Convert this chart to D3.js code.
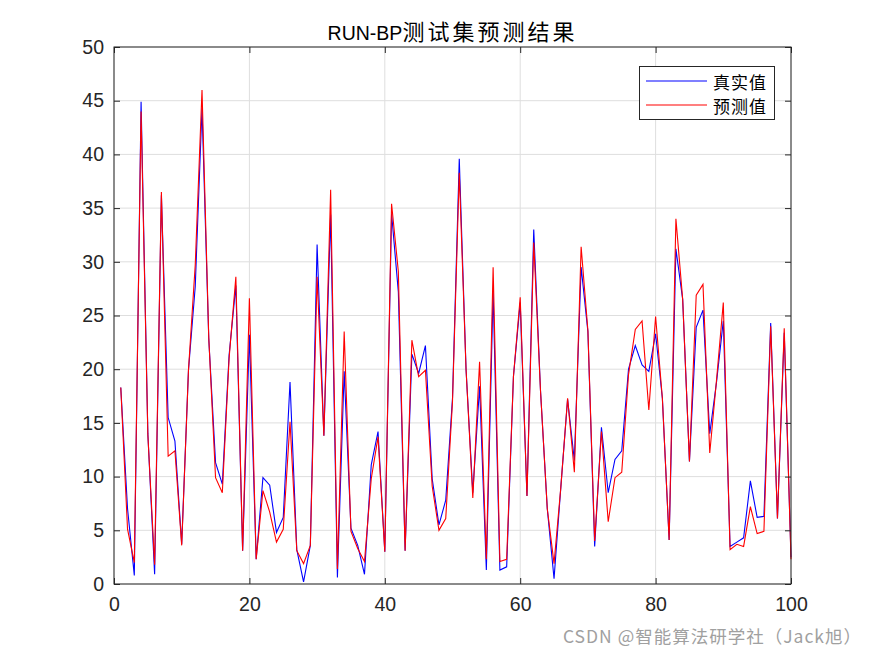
<!DOCTYPE html>
<html>
<head>
<meta charset="utf-8">
<script src="https://cdn.jsdelivr.net/npm/d3@7/dist/d3.min.js"></script>
<style>
  body { margin: 0; background: #fff; }
  svg { display: block; }
</style>
</head>
<body>
<div id="chart"></div>
<script>
// sample index 1..100
const samples = d3.range(1, 101);

// 真实值 (blue)
const trueValues = [
  18.3, 7.0, 0.8, 44.9, 14.0, 0.9, 36.2, 15.5, 13.3, 3.7,
  19.9, 27.7, 44.3, 22.8, 11.3, 9.3, 21.3, 27.8, 3.1, 23.2,
  2.3, 9.9, 9.2, 4.8, 6.2, 18.8, 3.2, 0.2, 3.6, 31.6,
  13.8, 34.4, 0.6, 19.8, 5.2, 3.6, 0.9, 11.1, 14.2, 3.0,
  34.5, 27.2, 3.1, 21.4, 19.6, 22.2, 9.8, 5.5, 7.8, 17.3,
  39.6, 20.0, 8.5, 18.4, 1.3, 27.2, 1.3, 1.6, 19.3, 26.2,
  8.2, 33.0, 18.0, 7.0, 0.5, 9.0, 17.2, 11.5, 29.5, 23.5,
  3.5, 14.6, 8.5, 11.6, 12.4, 20.0, 22.2, 20.4, 19.8, 23.3,
  17.3, 4.1, 31.2, 26.5, 11.4, 23.9, 25.5, 14.0, 18.8, 24.5,
  3.5, 3.9, 4.3, 9.6, 6.2, 6.3, 24.3, 6.1, 23.4, 2.5
];

// 预测值 (red)
const predValues = [
  18.3, 5.1, 2.0, 44.0, 13.9, 1.8, 36.5, 11.9, 12.4, 3.6,
  19.9, 29.7, 46.0, 22.9, 9.9, 8.5, 21.0, 28.6, 3.1, 26.6,
  2.3, 8.7, 6.7, 3.9, 5.1, 15.1, 3.1, 1.9, 3.6, 28.6,
  13.8, 36.7, 1.4, 23.5, 4.9, 3.3, 2.1, 9.8, 13.7, 3.0,
  35.4, 29.1, 3.1, 22.7, 19.3, 19.9, 9.1, 5.0, 6.1, 17.0,
  38.3, 20.0, 8.0, 20.7, 2.3, 29.5, 2.1, 2.3, 19.3, 26.7,
  8.2, 31.8, 18.0, 7.0, 1.9, 9.0, 17.3, 10.4, 31.4, 23.6,
  4.0, 14.2, 5.8, 9.9, 10.4, 19.5, 23.7, 24.5, 16.2, 24.9,
  17.3, 4.1, 34.0, 26.5, 11.4, 26.9, 27.9, 12.2, 19.0, 26.2,
  3.2, 3.7, 3.5, 7.2, 4.7, 4.9, 24.0, 6.1, 23.8, 2.3
];

const xTicks = [0, 20, 40, 60, 80, 100];
const yTicks = [0, 5, 10, 15, 20, 25, 30, 35, 40, 45, 50];
const seriesNames = ['真实值', '预测值'];

const width = 875, height = 656;
const margin = { left: 114, right: 84, top: 47, bottom: 72 };
const axisColor = '#262626';
const latin = "'Liberation Sans', Arial, sans-serif";
const cjk = "'Noto Sans CJK SC', sans-serif";

const svg = d3.select('#chart')
  .append('svg')
  .attr('width', width)
  .attr('height', height);

const xScale = d3.scaleLinear()
  .domain([0, 100])
  .range([margin.left, width - margin.right]);

const yScale = d3.scaleLinear()
  .domain([0, 50])
  .range([height - margin.bottom, margin.top]);

const x0 = xScale.range()[0], x1 = xScale.range()[1];
const y0 = yScale.range()[0], y1 = yScale.range()[1];

// grid
svg.append('g')
  .selectAll('line.vgrid')
  .data(xTicks)
  .enter()
  .append('line')
  .attr('x1', d => xScale(d)).attr('x2', d => xScale(d))
  .attr('y1', y1).attr('y2', y0)
  .attr('stroke', '#dedede').attr('stroke-width', 1);

svg.append('g')
  .selectAll('line.hgrid')
  .data(yTicks)
  .enter()
  .append('line')
  .attr('x1', x0).attr('x2', x1)
  .attr('y1', d => yScale(d)).attr('y2', d => yScale(d))
  .attr('stroke', '#dedede').attr('stroke-width', 1);

// lines
const line = d3.line()
  .x((d, i) => xScale(samples[i]))
  .y(d => yScale(d));

svg.append('path')
  .datum(trueValues)
  .attr('fill', 'none')
  .attr('stroke', '#0000ff')
  .attr('stroke-width', 1.1)
  .attr('d', line);

svg.append('path')
  .datum(predValues)
  .attr('fill', 'none')
  .attr('stroke', '#ff0000')
  .attr('stroke-width', 1.1)
  .attr('d', line);

// axes, ticks inward on all sides (box on)
const tickLen = 6;
const xAxis = d3.axisBottom(xScale).tickValues(xTicks).tickSize(-tickLen).tickPadding(13);
const yAxis = d3.axisLeft(yScale).tickValues(yTicks).tickSize(-tickLen).tickPadding(10);
const xTop = d3.axisTop(xScale).tickValues(xTicks).tickSize(-tickLen).tickFormat('');
const yRight = d3.axisRight(yScale).tickValues(yTicks).tickSize(-tickLen).tickFormat('');

function styleAxis(g) {
  g.select('.domain').remove();
  g.selectAll('.tick line').attr('stroke', axisColor);
  g.selectAll('.tick text')
    .attr('fill', axisColor)
    .style('font-family', latin)
    .style('font-size', '19.5px');
}

svg.append('g').attr('transform', `translate(0, ${y0})`).call(xAxis).call(styleAxis);
svg.append('g').attr('transform', `translate(${x0}, 0)`).call(yAxis).call(styleAxis);
svg.append('g').attr('transform', `translate(0, ${y1})`).call(xTop).call(styleAxis);
svg.append('g').attr('transform', `translate(${x1}, 0)`).call(yRight).call(styleAxis);

svg.append('rect')
  .attr('x', x0).attr('y', y1)
  .attr('width', x1 - x0).attr('height', y0 - y1)
  .attr('fill', 'none')
  .attr('stroke', axisColor)
  .attr('stroke-width', 1);

// title
const title = svg.append('text')
  .attr('x', (x0 + x1) / 2)
  .attr('y', 40)
  .attr('text-anchor', 'middle')
  .attr('fill', '#000');
title.append('tspan').style('font-family', latin).style('font-size', '19.5px').text('RUN-BP');
title.append('tspan').style('font-family', cjk).style('font-size', '22px')
  .attr('letter-spacing', '3px').text('测试集预测结果');

// legend
const legend = svg.append('g').attr('id', 'legend');
const legendColors = ['#0000ff', '#ff0000'];
legend.append('rect')
  .attr('x', 639.5).attr('y', 66.5)
  .attr('width', 135).attr('height', 53)
  .attr('fill', '#fff')
  .attr('stroke', axisColor)
  .attr('stroke-width', 1);

legend.selectAll('line.key')
  .data(seriesNames)
  .enter()
  .append('line')
  .attr('x1', 646).attr('x2', 707)
  .attr('y1', (d, i) => 81 + i * 24).attr('y2', (d, i) => 81 + i * 24)
  .attr('stroke', (d, i) => legendColors[i])
  .attr('stroke-width', 1.1);

legend.selectAll('text.key')
  .data(seriesNames)
  .enter()
  .append('text')
  .attr('x', 713)
  .attr('y', (d, i) => 81 + i * 24)
  .attr('dominant-baseline', 'central')
  .attr('fill', '#000')
  .style('font-family', cjk)
  .style('font-size', '17px')
  .attr('letter-spacing', '1px')
  .text(d => d);

// watermark
svg.append('text')
  .attr('x', 862)
  .attr('y', 643)
  .attr('text-anchor', 'end')
  .attr('fill', '#a0a0a0')
  .style('font-family', "'Noto Sans CJK SC', sans-serif")
  .style('font-size', '17.5px')
  .attr('letter-spacing', '1px')
  .text('CSDN @智能算法研学社（Jack旭）');
</script>
</body>
</html>
